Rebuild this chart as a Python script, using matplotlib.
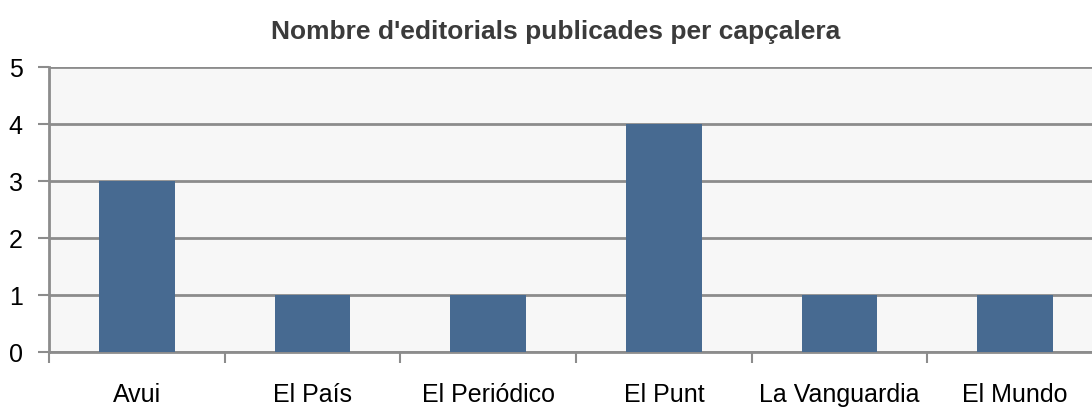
import matplotlib.pyplot as plt
from matplotlib.ticker import FixedLocator

plt.rcParams['font.family'] = ['Liberation Sans', 'DejaVu Sans']

# Data
categories = ["Avui", "El País", "El Periódico", "El Punt", "La Vanguardia", "El Mundo"]
counts = [3, 1, 1, 4, 1, 1]
title = "Nombre d'editorials publicades per capçalera"

bar_color = "#476a91"
grid_color = "#8c8c8c"

fig = plt.figure(figsize=(10.92, 4.07), dpi=100)
ax = fig.add_axes([0.0449, 0.1351, 0.9652, 0.7002])
ax.set_facecolor("#f7f7f7")

x = list(range(len(categories)))
ax.bar(x, counts, width=0.43, color=bar_color, zorder=3)

ax.set_xlim(-0.5, len(categories) - 0.5)
ax.set_ylim(0, 5)
ax.set_yticks(range(0, 6))
ax.yaxis.grid(True, color=grid_color, linewidth=2, zorder=1)

# category labels at centres, tick marks at boundaries
ax.set_xticks(x)
ax.set_xticklabels(categories, fontsize=18)
ax.tick_params(axis="x", which="major", length=0, pad=22)
ax.xaxis.set_minor_locator(FixedLocator([i - 0.5 for i in range(len(categories) + 1)]))
ax.tick_params(axis="x", which="minor", length=8, width=1.5, color=grid_color)
ax.tick_params(axis="y", length=8, width=1.5, color=grid_color, labelsize=18, pad=11)

for side in ["top", "right"]:
    ax.spines[side].set_visible(False)
ax.spines["left"].set_color(grid_color)
ax.spines["left"].set_linewidth(2)
ax.spines["bottom"].set_color(grid_color)
ax.spines["bottom"].set_linewidth(2)

fig.text(0.5087, 0.921, title, ha="center", va="center", fontsize=19,
         fontweight="bold", color="#3b3b3b")

plt.savefig("out.png", dpi=100)
